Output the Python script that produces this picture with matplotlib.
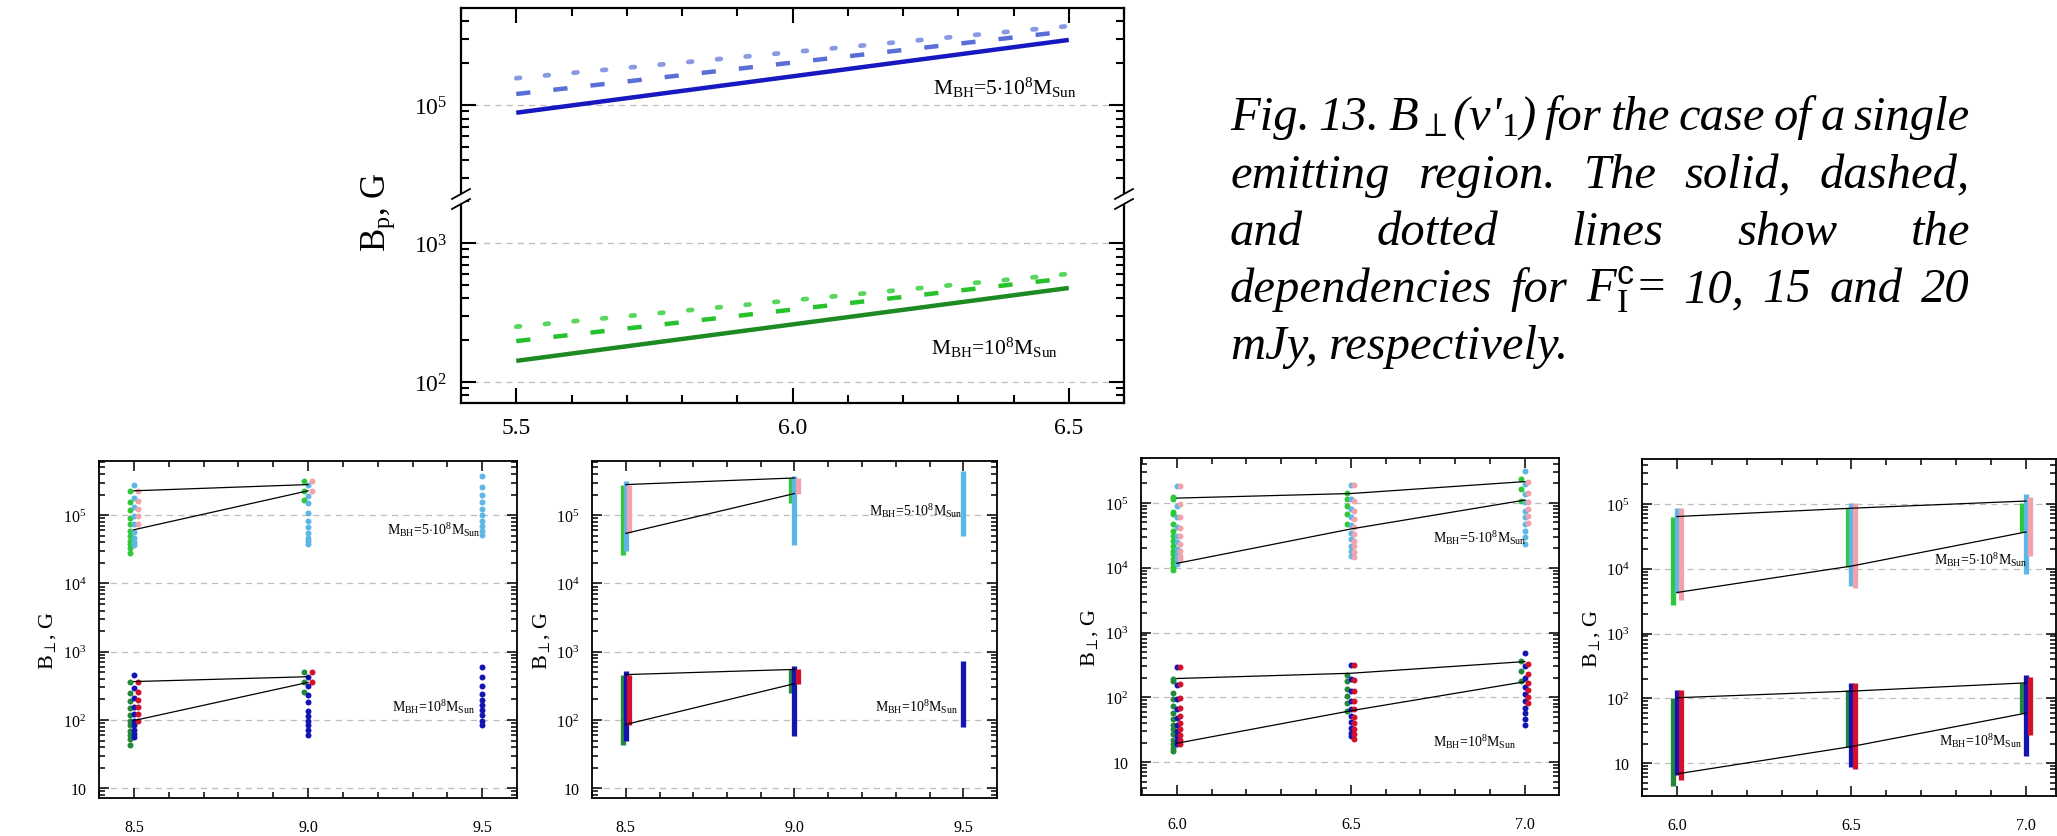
import numpy as np
import matplotlib
matplotlib.use('Agg')
import matplotlib.pyplot as plt
from matplotlib.ticker import LogLocator, FuncFormatter, MultipleLocator, NullFormatter
from matplotlib.lines import Line2D
from matplotlib.patches import Polygon

plt.rcParams['font.family'] = ['Liberation Serif', 'DejaVu Serif']
plt.rcParams['mathtext.fontset'] = 'custom'
plt.rcParams['mathtext.rm'] = 'Liberation Serif'
plt.rcParams['mathtext.it'] = 'Liberation Serif:italic'
plt.rcParams['mathtext.sf'] = 'Liberation Sans'

# ---- top panel: B_p(nu) for F = 10, 15, 20 mJy
top_nu = [5.5, 6.5]
top_hi_solid = [8.8e4, 2.94e5]
top_hi_dashed = [1.2e5, 3.4e5]
top_hi_dotted = [1.56e5, 3.7e5]
top_lo_solid = [142, 475]
top_lo_dashed = [197, 560]
top_lo_dotted = [250, 600]

# ---- panel 1 (points), columns at 8.5, 9.0, 9.5
p1_x = [8.5, 9.0, 9.5]
p1_green_hi = [[2.27e5, 1.57e5, 1.2e5, 9.2e4, 7.4e4, 5.9e4, 5.0e4, 4.2e4, 3.8e4, 3.3e4, 2.8e4],
               [3.2e5, 2.27e5, 1.67e5], []]
p1_sky = [[2.8e5, 1.8e5, 1.3e5, 9.8e4, 7.4e4, 5.7e4, 4.7e4, 4.0e4, 3.6e4],
          [2.75e5, 1.9e5, 1.5e5, 1.09e5, 8.3e4, 6.6e4, 5.5e4, 4.7e4, 4.2e4, 3.8e4],
          [3.7e5, 2.6e5, 1.96e5, 1.53e5, 1.22e5, 1.0e5, 8.3e4, 7.0e4, 5.9e4, 5.1e4]]
p1_pink = [[2.27e5, 1.62e5, 1.22e5, 9.6e4, 7.4e4], [3.2e5, 2.27e5], []]
p1_green_lo = [[364, 248, 192, 148, 118, 98, 83, 70, 60, 53, 43], [510, 356, 260], []]
p1_blue = [[456, 291, 207, 157, 122, 98, 83, 72, 62, 56],
           [430, 311, 232, 181, 137, 113, 96, 83, 71, 61],
           [590, 421, 311, 240, 199, 166, 140, 118, 98, 83]]
p1_red = [[364, 260, 199, 153, 122, 98], [510, 356], []]
p1_line_x = [8.5, 9.0]
p1_lines = [[2.27e5, 2.8e5], [6.1e4, 2.27e5], [365, 430], [98, 355]]

# ---- panel 2 (ranges), columns at 8.5, 9.0, 9.5 : (low, high)
p2_x = [8.5, 9.0, 9.5]
p2_green_hi = [(2.6e4, 2.8e5), (1.5e5, 3.5e5), None]
p2_sky = [(3.0e4, 3.2e5), (3.6e4, 3.8e5), (4.9e4, 4.4e5)]
p2_pink = [(5.4e4, 2.8e5), (2.07e5, 3.5e5), None]
p2_green_lo = [(43, 462), (250, 560), None]
p2_blue = [(49, 515), (59, 615), (80, 720)]
p2_red = [(85, 462), (340, 560), None]
p2_line_x = [8.5, 9.0]
p2_lines = [[2.8e5, 3.5e5], [5.4e4, 2.07e5], [462, 550], [86, 340]]

# ---- panel 3 (points), columns at 6.0, 6.5, 7.0
p3_x = [6.0, 6.5, 7.0]
p3_green_hi = [[1.22e5, 1.15e5, 7.2e4, 6.8e4, 4.7e4, 3.7e4, 3.1e4, 2.6e4, 2.2e4, 1.83e4, 1.63e4, 1.36e4, 1.18e4, 1.01e4, 9.3e3],
               [1.41e5, 1.15e5, 9.1e4, 6.8e4, 4.7e4],
               [2.35e5, 1.64e5, 1.09e5]]
p3_sky = [[1.81e5, 9.1e4, 6.0e4, 4.2e4, 3.1e4, 2.47e4, 1.95e4, 1.63e4, 1.36e4, 1.14e4],
          [1.9e5, 1.15e5, 8.1e4, 6.0e4, 4.5e4, 3.5e4, 2.8e4, 2.2e4, 1.83e4, 1.53e4],
          [3.16e5, 1.97e5, 1.38e5, 1.02e5, 7.6e4, 6.0e4, 4.7e4, 3.7e4, 2.94e4, 2.3e4]]
p3_pink = [[1.81e5, 9.7e4, 6.0e4, 4.1e4, 3.05e4, 2.3e4, 1.83e4, 1.53e4, 1.36e4],
           [1.9e5, 1.09e5, 7.6e4, 5.7e4, 4.2e4, 3.3e4, 2.6e4, 2.14e4, 1.73e4, 1.44e4],
           [2.09e5, 1.43e5, 1.05e5, 8.1e4, 6.2e4, 4.9e4]]
p3_green_lo = [[195, 179, 118, 93, 73, 58, 46, 38, 32, 27, 22, 18.7, 16.7, 14.8],
               [219, 179, 133, 105, 83, 61.5],
               [365, 255, 179]]
p3_blue = [[294, 153, 93, 65, 48.5, 38, 30, 25, 21, 18.7],
           [313, 190, 125, 88, 65, 51, 41, 34, 28.4, 25],
           [479, 305, 201, 146, 111, 88, 69, 57, 47, 37]]
p3_red = [[294, 159, 99, 69, 51, 40, 32, 26, 21.9, 18.7],
          [313, 185, 125, 88, 65, 50, 40, 32, 27, 23],
          [332, 227, 169, 130, 101, 81]]
p3_line_x = [6.0, 6.5, 7.0]
p3_lines = [[1.19e5, 1.4e5, 2.14e5], [1.17e4, 3.97e4, 1.11e5], [195, 235, 356], [19.5, 62, 174]]

# ---- panel 4 (ranges), columns at 6.0, 6.5, 7.0
p4_x = [6.0, 6.5, 7.0]
p4_green_hi = [(2.8e3, 6.4e4), (1.07e4, 8.6e4), (3.7e4, 1.05e5)]
p4_sky = [(4.2e3, 8.6e4), (5.5e3, 1.05e5), (8.3e3, 1.43e5)]
p4_pink = [(3.3e3, 8.6e4), (5.0e3, 1.05e5), (1.6e4, 1.3e5)]
p4_green_lo = [(4.5, 101), (17.7, 132), (59, 173)]
p4_blue = [(6.5, 135), (8.7, 173), (13, 230)]
p4_red = [(5.4, 135), (8.0, 173), (27, 215)]
p4_line_x = [6.0, 6.5, 7.0]
p4_lines = [[6.4e4, 8.6e4, 1.11e5], [4.3e3, 1.1e4, 3.7e4], [102, 129, 173], [6.8, 18, 59]]

GREEN_HI = '#2ec83a'
GREEN_LO = '#23893a'
SKY = '#5db7e6'
PINK = '#f2a2aa'
BLUE = '#1414b4'
RED = '#d4102c'

label_hi = r'M$_{\rm BH}$=5$\cdot$10$^{8}$M$_{\rm Sun}$'
label_lo = r'M$_{\rm BH}$=10$^{8}$M$_{\rm Sun}$'

W, H = 2057, 837
fig = plt.figure(figsize=(W / 100, H / 100), dpi=100)


def add_axes_px(l, t, r, b):
    return fig.add_axes([l / W, 1 - b / H, (r - l) / W, (b - t) / H])


def log_ticks(ax, fmt=None):
    ax.set_yscale('log')
    ax.yaxis.set_major_locator(LogLocator(base=10, numticks=20))
    ax.yaxis.set_minor_locator(LogLocator(base=10, subs=np.arange(2, 10), numticks=20))
    ax.yaxis.set_minor_formatter(NullFormatter())
    if fmt is not None:
        ax.yaxis.set_major_formatter(FuncFormatter(fmt))


def decade_grid(ax, lo, hi):
    for e in range(lo, hi + 1):
        ax.axhline(10 ** e, color='#bdbdbd', lw=0.9, ls=(0, (5, 4)), zorder=0)


# ================= top panel with broken axis =================
ax_hi = add_axes_px(461, 9, 1124, 200)
ax_lo = add_axes_px(461, 200, 1124, 404)
for ax in (ax_hi, ax_lo):
    log_ticks(ax)
    ax.set_xlim(5.4, 6.6)
    ax.xaxis.set_major_locator(MultipleLocator(0.5))
    ax.xaxis.set_minor_locator(MultipleLocator(0.1))
    ax.tick_params(which='both', direction='in', top=True, right=True, labelsize=17, width=1.5)
    ax.tick_params(which='major', length=11, pad=10)
    ax.tick_params(which='minor', length=6)
    for s in ax.spines.values():
        s.set_linewidth(1.6)
ax_hi.set_ylim(10 ** 4.324, 10 ** 5.698)
ax_lo.set_ylim(10 ** 1.849, 10 ** 3.317)
ax_hi.spines['bottom'].set_visible(False)
ax_lo.spines['top'].set_visible(False)
ax_hi.tick_params(axis='x', which='both', bottom=False, labelbottom=False)
ax_lo.tick_params(axis='x', which='both', top=False)
decade_grid(ax_hi, 4, 5)
decade_grid(ax_lo, 2, 3)

ax_hi.plot(top_nu, top_hi_solid, color='#1818c0', lw=3.2, solid_capstyle='butt')
ax_hi.plot(top_nu, top_hi_dashed, color='#5a6ed8', lw=3.2, ls=(0, (3.2, 5.2)))
ax_hi.plot(top_nu, top_hi_dotted, color='#8a9ae2', lw=3.4, ls=(0, (0.8, 5.3)), dash_capstyle='round')
ax_lo.plot(top_nu, top_lo_solid, color='#1e8a24', lw=3.2, solid_capstyle='butt')
ax_lo.plot(top_nu, top_lo_dashed, color='#26c22c', lw=3.2, ls=(0, (3.2, 5.2)))
ax_lo.plot(top_nu, top_lo_dotted, color='#5ad65e', lw=3.4, ls=(0, (0.8, 5.3)), dash_capstyle='round')

ax_hi.text(6.384, 1.35e5, label_hi, fontsize=15.5, ha='center', va='center')
ax_lo.text(6.366, 180, label_lo, fontsize=15.5, ha='center', va='center')
fig.text(378 / W, 1 - 212 / H, r'B$_{\rm p}$, G', rotation=90, fontsize=25,
         ha='center', va='center')

# break marks on both side spines
for xs in (461, 1124):
    yb = H - 200
    gap = Polygon([[(xs - 8) / W, (yb - 9) / H], [(xs + 8) / W, (yb - 1) / H],
                   [(xs + 8) / W, (yb + 9) / H], [(xs - 8) / W, (yb + 1) / H]],
                  closed=True, transform=fig.transFigure, facecolor='white',
                  edgecolor='none', zorder=10)
    fig.patches.append(gap)
    for dy in (-5, 5):
        fig.add_artist(Line2D([(xs - 9) / W, (xs + 9) / W],
                              [(yb + dy - 5) / H, (yb + dy + 5) / H],
                              color='black', lw=1.3, zorder=11))


# ================= bottom panels =================
def bottom_fmt(v, pos):
    e = int(round(np.log10(v)))
    return '10' if e == 1 else r'10$^{%d}$' % e


def setup_bottom(ax, xlim, ylim, xticks, ylab_x):
    log_ticks(ax, bottom_fmt)
    ax.set_xlim(*xlim)
    ax.set_ylim(*ylim)
    ax.set_xticks(xticks)
    ax.set_xticklabels(['%.1f' % v for v in xticks])
    ax.xaxis.set_minor_locator(MultipleLocator(0.1))
    ax.tick_params(which='both', direction='in', top=True, right=True, labelsize=11.5, width=1.1)
    ax.tick_params(which='major', length=7, pad=9)
    ax.tick_params(axis='x', which='major', pad=15)
    ax.tick_params(which='minor', length=4)
    for s in ax.spines.values():
        s.set_linewidth(1.3)
    decade_grid(ax, 1, 5)
    bb = ax.get_position()
    fig.text(ylab_x / W, bb.y0 + bb.height * 0.47, r'B$_{\perp}$, G', rotation=90,
             fontsize=16, ha='center', va='center')


def draw_points(ax, xs, cols, color, dx):
    for x, vals in zip(xs, cols):
        if vals:
            ax.plot([x + dx] * len(vals), vals, 'o', color=color, ms=4.3, mec='none')


def draw_ranges(ax, xs, cols, color, dx):
    for x, r in zip(xs, cols):
        if r is not None:
            ax.vlines(x + dx, r[0], r[1], color=color, lw=3.8)


def draw_lines(ax, xs, lines):
    for ys in lines:
        ax.plot(xs, ys, color='black', lw=0.9, zorder=5)


# panel 1
ax1 = add_axes_px(99, 462, 517, 799)
setup_bottom(ax1, (8.4, 9.6), (7.2, 6.2e5), [8.5, 9.0, 9.5], 48)
draw_points(ax1, p1_x, p1_green_hi, GREEN_HI, -0.012)
draw_points(ax1, p1_x, p1_sky, SKY, 0.0)
draw_points(ax1, p1_x, p1_pink, PINK, 0.012)
draw_points(ax1, p1_x, p1_green_lo, GREEN_LO, -0.012)
draw_points(ax1, p1_x, p1_blue, BLUE, 0.0)
draw_points(ax1, p1_x, p1_red, RED, 0.012)
draw_lines(ax1, p1_line_x, p1_lines)
ax1.text(9.36, 6.3e4, label_hi, fontsize=10, ha='center', va='center')
ax1.text(9.36, 160, label_lo, fontsize=10, ha='center', va='center')

# panel 2
ax2 = add_axes_px(592, 462, 997, 799)
setup_bottom(ax2, (8.4, 9.6), (7.2, 6.2e5), [8.5, 9.0, 9.5], 542)
draw_ranges(ax2, p2_x, p2_green_hi, GREEN_HI, -0.009)
draw_ranges(ax2, p2_x, p2_sky, SKY, 0.0)
draw_ranges(ax2, p2_x, p2_pink, PINK, 0.011)
draw_ranges(ax2, p2_x, p2_green_lo, GREEN_LO, -0.009)
draw_ranges(ax2, p2_x, p2_blue, BLUE, 0.0)
draw_ranges(ax2, p2_x, p2_red, RED, 0.011)
draw_lines(ax2, p2_line_x, p2_lines)
ax2.text(9.36, 1.2e5, label_hi, fontsize=10, ha='center', va='center')
ax2.text(9.36, 158, label_lo, fontsize=10, ha='center', va='center')

# panel 3
ax3 = add_axes_px(1141, 459, 1559, 796)
setup_bottom(ax3, (5.897, 7.098), (3.1, 4.95e5), [6.0, 6.5, 7.0], 1090)
draw_points(ax3, p3_x, p3_green_hi, GREEN_HI, -0.012)
draw_points(ax3, p3_x, p3_sky, SKY, 0.0)
draw_points(ax3, p3_x, p3_pink, PINK, 0.01)
draw_points(ax3, p3_x, p3_green_lo, GREEN_LO, -0.012)
draw_points(ax3, p3_x, p3_blue, BLUE, 0.0)
draw_points(ax3, p3_x, p3_red, RED, 0.01)
draw_lines(ax3, p3_line_x, p3_lines)
ax3.text(6.87, 2.95e4, label_hi, fontsize=10, ha='center', va='center')
ax3.text(6.855, 21, label_lo, fontsize=10, ha='center', va='center')

# panel 4
ax4 = add_axes_px(1642, 460, 2056, 797)
setup_bottom(ax4, (5.9, 7.086), (3.1, 4.95e5), [6.0, 6.5, 7.0], 1592)
draw_ranges(ax4, p4_x, p4_green_hi, GREEN_HI, -0.011)
draw_ranges(ax4, p4_x, p4_sky, SKY, 0.0)
draw_ranges(ax4, p4_x, p4_pink, PINK, 0.011)
draw_ranges(ax4, p4_x, p4_green_lo, GREEN_LO, -0.011)
draw_ranges(ax4, p4_x, p4_blue, BLUE, 0.0)
draw_ranges(ax4, p4_x, p4_red, RED, 0.011)
draw_lines(ax4, p4_line_x, p4_lines)
ax4.text(6.87, 1.4e4, label_hi, fontsize=10, ha='center', va='center')
ax4.text(6.87, 22.4, label_lo, fontsize=10, ha='center', va='center')

# ================= caption, justified =================
caption = [
    [r"Fig.", r"13.", r"B$_{\perp}$(v'$_{\mathit{1}}$)", "for", "the", "case", "of", "a", "single"],
    ["emitting", "region.", "The", "solid,", "dashed,"],
    ["and", "dotted", "lines", "show", "the"],
    ["dependencies", "for", r"F$_{\rm I}^{\sf c}$=", "10,", "15", "and", "20"],
    ["mJy,", "respectively."],
]
cap_left, cap_right = 1230, 1970
cap_base = [130, 188, 245, 302, 359]
cap_size = 35
renderer = fig.canvas.get_renderer()
for i, words in enumerate(caption):
    yb = 1 - cap_base[i] / H
    ts = [fig.text(0, yb, w, fontsize=cap_size, family='Liberation Serif', style='italic',
                   va='baseline', ha='left') for w in words]
    widths = [t.get_window_extent(renderer).width for t in ts]
    if i < len(caption) - 1:
        gap = (cap_right - cap_left - sum(widths)) / (len(words) - 1)
    else:
        gap = 10
    x = cap_left
    for t, w in zip(ts, widths):
        t.set_x(x / W)
        x += w + gap

fig.savefig('out.png', dpi=100)
